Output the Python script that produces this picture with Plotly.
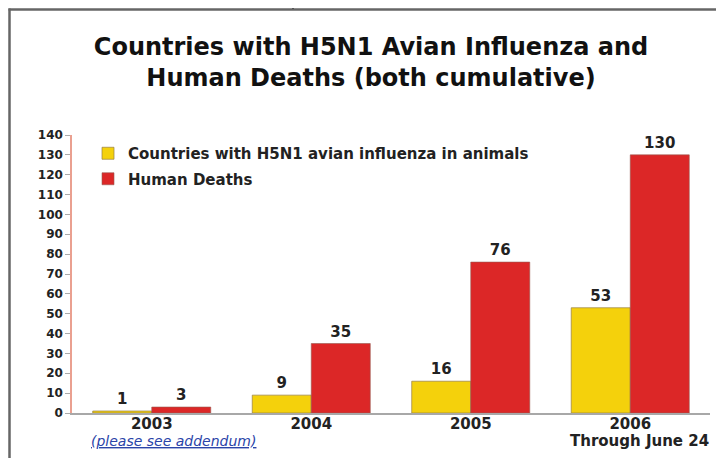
import plotly.graph_objects as go

years = ["2003", "2004", "2005", "2006"]
tick_labels = ["2003", "2004", "2005", "2006"]
countries = [1, 9, 16, 53]
deaths = [3, 35, 76, 130]
y_ticks = list(range(0, 141, 10))

# page is shown with the browser's 8px body margin, so work in figure coords = page - 8
OFF = 8
W, H = 716, 450
L, T = 72 - OFF, 135 - OFF
R, B = W - (710 - OFF), H - (413 - OFF)
PW, PH = W - L - R, H - T - B


def px(x):  # reference page x -> paper x
    return (x - OFF - L) / PW


def py(y):  # reference page y -> paper y
    return (H - B - (y - OFF)) / PH


fig = go.Figure()
fig.add_trace(go.Bar(
    x=years, y=countries, name="Countries with H5N1 avian influenza in animals",
    marker=dict(color="#f4d10c", line=dict(color="rgba(150,125,70,0.7)", width=1)),
    text=countries, textposition="outside", cliponaxis=False,
    textfont=dict(family="DejaVu Sans", size=15, color="#222222", weight="bold"),
    legendgroup="a",
))
fig.add_trace(go.Bar(
    x=years, y=deaths, name="Human Deaths",
    marker=dict(color="#dc2727", line=dict(color="rgba(150,90,80,0.6)", width=1)),
    text=deaths, textposition="outside", cliponaxis=False,
    textfont=dict(family="DejaVu Sans", size=15, color="#222222", weight="bold"),
    legendgroup="b",
))

frame = dict(color="#666666", width=2.5)
shapes = [
    dict(type="line", xref="paper", yref="paper", x0=px(8.5), x1=px(760), y0=py(9.5), y1=py(9.5), line=frame),
    dict(type="line", xref="paper", yref="paper", x0=px(9.5), x1=px(9.5), y0=py(8.5), y1=py(480), line=frame),
    dict(type="line", xref="paper", yref="paper", x0=px(293), x1=px(293), y0=py(9), y1=py(-5),
         line=dict(color="#444444", width=1.5)),
]

fig.update_layout(
    width=W, height=H,
    margin=dict(l=L, r=R, t=T, b=B, autoexpand=False),
    paper_bgcolor="white", plot_bgcolor="white",
    barmode="group", bargap=0.26, bargroupgap=0,
    title=dict(
        text="Countries with H5N1 Avian Influenza and<br>Human Deaths (both cumulative)",
        x=(371 - OFF) / W, xanchor="center", xref="container",
        y=1 - (55 - OFF) / H, yanchor="top", yref="container",
        font=dict(family="DejaVu Sans", size=24, color="#111111", weight="bold"),
    ),
    legend=dict(
        x=px(88), y=py(137), xanchor="left", yanchor="top",
        font=dict(family="DejaVu Sans", size=15, color="#222222", weight="bold"),
        bgcolor="rgba(0,0,0,0)", traceorder="grouped", tracegroupgap=3,
    ),
    xaxis=dict(
        range=[-0.5, 3.5], tickmode="array", tickvals=years, ticktext=tick_labels,
        showline=True, linecolor="#a8a8a8", linewidth=2, ticks="", showgrid=False,
        automargin=False, ticklabelstandoff=-4,
        tickfont=dict(family="DejaVu Sans", size=15, color="#222222", weight="bold"),
    ),
    yaxis=dict(
        range=[0, 140], tickvals=y_ticks, showline=True, linecolor="#eaa090", linewidth=1.5,
        ticks="outside", ticklen=5, tickcolor="#aaaaaa", showgrid=False, zeroline=False,
        automargin=False,
        tickfont=dict(family="DejaVu Sans", size=12, color="#222222", weight="bold"),
    ),
    shapes=shapes,
    annotations=[
        dict(text="(please see addendum)", xref="paper", yref="paper", x=px(173), y=py(441),
             xanchor="center", yanchor="middle", showarrow=False,
             font=dict(family="DejaVu Sans", size=14, color="#2a44a8", style="italic", lineposition="under")),
        dict(text="Through June 24", xref="paper", yref="paper", x=px(639), y=py(441),
             xanchor="center", yanchor="middle", showarrow=False,
             font=dict(family="DejaVu Sans", size=15, color="#222222", weight="bold")),
    ],
)

fig.write_html("out.html")
